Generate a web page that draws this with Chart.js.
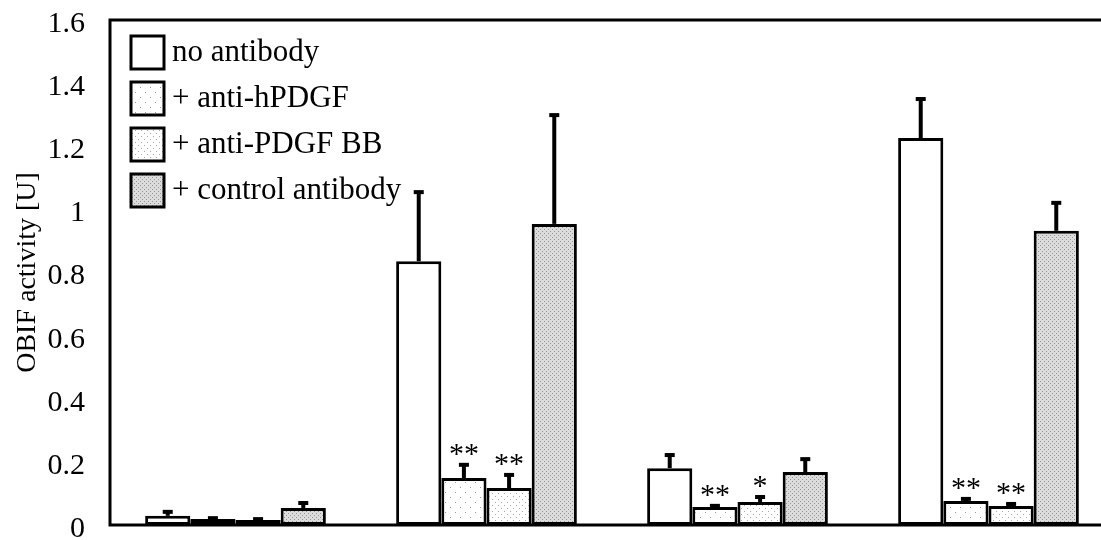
<!DOCTYPE html>
<html>
<head>
<meta charset="utf-8">
<script src="https://cdn.jsdelivr.net/npm/chart.js@4"></script>
<style>
  html, body { margin: 0; padding: 0; background: #fff; overflow: hidden; }
  #wrap { width: 1114px; height: 591px; margin-top: -23px; }
</style>
</head>
<body>
<div id="wrap"><canvas id="c"></canvas></div>
<script>
// groups (no x labels in the figure)
const groups = ['1', '2', '3', '4'];
const yTicks = [0, 0.2, 0.4, 0.6, 0.8, 1, 1.2, 1.4, 1.6];

const noAntibody     = [0.029, 0.836, 0.180, 1.226];
const noAntibodyErr  = [0.019, 0.225, 0.048, 0.130];
const antiHPDGF      = [0.019, 0.149, 0.057, 0.076];
const antiHPDGFErr   = [0.009, 0.048, 0.010, 0.013];
const antiPDGFBB     = [0.016, 0.117, 0.073, 0.060];
const antiPDGFBBErr  = [0.009, 0.048, 0.022, 0.013];
const controlAb      = [0.054, 0.954, 0.168, 0.932];
const controlAbErr   = [0.022, 0.351, 0.047, 0.095];

const antiHPDGFStars  = [0, 2, 2, 2];
const antiPDGFBBStars = [0, 2, 1, 2];

const SERIF = '"Liberation Serif", "DejaVu Serif", serif';
const SHIFT = 23; // canvas is pulled up by this much (see #wrap)

// dotted fills like the print screens
function dots(step, dot, bg, fg) {
    const c = document.createElement('canvas');
    c.width = step * 2; c.height = step * 2;
    const g = c.getContext('2d');
    g.fillStyle = bg;
    g.fillRect(0, 0, c.width, c.height);
    g.fillStyle = fg;
    g.fillRect(0, 0, dot, dot);
    g.fillRect(step, step, dot, dot);
    return g.createPattern(c, 'repeat');
}
const fillSparse = dots(5, 1, '#ffffff', '#9a9a9a');
const fillMedium = dots(3, 1, '#ffffff', '#a8a8a8');
const fillDense  = dots(2, 1, '#dcdcdc', '#949494');

const errs  = [noAntibodyErr, antiHPDGFErr, antiPDGFBBErr, controlAbErr];
const stars = [null, antiHPDGFStars, antiPDGFBBStars, null];

const errorBars = {
    id: 'errorBars',
    afterDatasetsDraw(chart) {
        const ctx = chart.ctx, y = chart.scales.y;
        ctx.save();
        chart.data.datasets.forEach((ds, i) => {
            const meta = chart.getDatasetMeta(i);
            meta.data.forEach((bar, j) => {
                const top = y.getPixelForValue(ds.data[j] + errs[i][j]);
                ctx.strokeStyle = '#000';
                ctx.lineWidth = 4;
                ctx.beginPath();
                ctx.moveTo(bar.x, bar.y);
                ctx.lineTo(bar.x, top + 2);
                ctx.stroke();
                ctx.fillStyle = '#000';
                ctx.fillRect(bar.x - 5, top, 10, 4);
                const n = stars[i] ? stars[i][j] : 0;
                if (n) {
                    ctx.font = '30px ' + SERIF;
                    ctx.textAlign = 'center';
                    ctx.textBaseline = 'alphabetic';
                    if (n === 1) {
                        ctx.fillText('*', bar.x, top);
                    } else {
                        ctx.fillText('*', bar.x - 7.5, top);
                        ctx.fillText('*', bar.x + 7.5, top);
                    }
                }
            });
        });
        ctx.restore();
    }
};

const frame = {
    id: 'frame',
    afterDraw(chart) {
        const ctx = chart.ctx, a = chart.chartArea;
        ctx.save();
        ctx.strokeStyle = '#000';
        ctx.lineWidth = 3;
        ctx.beginPath();
        ctx.moveTo(chart.width, a.top);
        ctx.lineTo(a.left, a.top);
        ctx.lineTo(a.left, a.bottom);
        ctx.lineTo(chart.width, a.bottom);
        ctx.stroke();
        ctx.restore();
    }
};

const boxLegend = {
    id: 'boxLegend',
    afterDraw(chart) {
        const ctx = chart.ctx;
        ctx.save();
        ctx.font = '31px ' + SERIF;
        ctx.textBaseline = 'middle';
        ctx.textAlign = 'left';
        chart.data.datasets.forEach((ds, i) => {
            const x = 131, yTop = SHIFT + 36 + i * 46;
            ctx.fillStyle = ds.backgroundColor;
            ctx.fillRect(x, yTop, 33, 33);
            ctx.strokeStyle = '#000';
            ctx.lineWidth = 3;
            ctx.strokeRect(x, yTop, 33, 33);
            ctx.fillStyle = '#000';
            ctx.fillText(ds.label, 172, yTop + 17);
        });
        ctx.restore();
    }
};

new Chart(document.getElementById('c'), {
    type: 'bar',
    data: {
        labels: groups,
        datasets: [
            { label: 'no antibody', data: noAntibody, backgroundColor: '#ffffff' },
            { label: '+ anti-hPDGF', data: antiHPDGF, backgroundColor: fillSparse },
            { label: '+ anti-PDGF BB', data: antiPDGFBB, backgroundColor: fillMedium },
            { label: '+ control antibody', data: controlAb, backgroundColor: fillDense }
        ].map(d => Object.assign(d, {
            borderColor: '#000',
            borderWidth: 3,
            borderSkipped: false,
            categoryPercentage: 0.72,
            barPercentage: 1
        }))
    },
    options: {
        responsive: true,
        maintainAspectRatio: false,
        animation: false,
        layout: { padding: 0 },
        plugins: {
            legend: { display: false },
            tooltip: { enabled: false }
        },
        scales: {
            x: { display: false },
            y: {
                min: 0,
                max: 1.6,
                afterFit: s => { s.width = 110; },
                afterBuildTicks: s => { s.ticks = yTicks.map(v => ({ value: v })); },
                grid: { display: false, drawTicks: false },
                border: { display: false },
                ticks: {
                    color: '#000',
                    padding: 25,
                    labelOffset: 4,
                    font: { family: SERIF, size: 30 },
                    callback: v => String(v)
                },
                title: {
                    display: true,
                    text: 'OBIF activity [U]',
                    color: '#000',
                    font: { family: SERIF, size: 28 },
                    padding: { top: 11, bottom: 0 }
                }
            }
        }
    },
    plugins: [errorBars, frame, boxLegend]
});
</script>
</body>
</html>
